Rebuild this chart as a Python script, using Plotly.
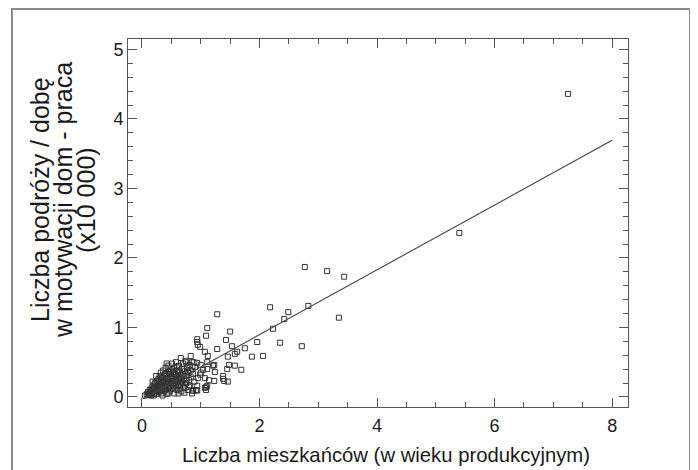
import plotly.graph_objects as go

# --- data ---
pop_x = [
    0.05, 0.08, 0.10, 0.10, 0.12, 0.13, 0.14, 0.15, 0.16, 0.17, 0.18, 0.19, 0.20, 0.20, 0.21, 0.22, 0.23, 0.24,
    0.25, 0.25, 0.26, 0.27, 0.28, 0.28, 0.29, 0.30, 0.30,
    0.31, 0.32, 0.32, 0.33, 0.34, 0.35, 0.35, 0.36, 0.37, 0.37, 0.38, 0.39, 0.40, 0.40, 0.41, 0.42, 0.42, 0.43,
    0.44, 0.45, 0.45, 0.46, 0.47, 0.48, 0.48, 0.49, 0.50, 0.50, 0.51, 0.52, 0.53, 0.53, 0.54, 0.55, 0.55, 0.56,
    0.57, 0.58, 0.58, 0.59, 0.60, 0.60,
    0.61, 0.62, 0.63, 0.64, 0.65, 0.66, 0.66, 0.67, 0.68, 0.69, 0.70, 0.70, 0.71, 0.72, 0.73, 0.74, 0.75, 0.75,
    0.76, 0.77, 0.78, 0.79, 0.80, 0.81, 0.82, 0.83, 0.83, 0.84, 0.85, 0.86, 0.87, 0.87, 0.88, 0.89,
    0.22, 0.26, 0.29, 0.31, 0.33, 0.34, 0.36, 0.38, 0.39, 0.41, 0.43, 0.44, 0.46, 0.47, 0.49, 0.51, 0.52, 0.54,
    0.56, 0.57, 0.59, 0.61, 0.62, 0.64, 0.65, 0.67, 0.68, 0.71, 0.73, 0.76, 0.78, 0.80, 0.15, 0.35, 0.45, 0.62,
    0.72, 0.18, 0.24, 0.42,
    0.92, 0.94, 0.94, 0.95, 0.99, 0.94, 0.95, 0.99, 1.00, 1.07, 1.12, 1.07, 1.07, 1.11, 1.14, 1.11, 1.09, 1.11,
    1.21, 1.23, 1.24, 1.28, 1.28, 0.85, 0.94, 0.90, 1.00, 1.11, 1.23, 1.04, 1.09, 1.09, 0.87, 0.94,
    1.38, 1.38, 1.40, 1.45, 1.46, 1.46, 1.48, 1.50, 1.43, 1.53, 1.58, 1.58, 1.62, 1.69, 1.75, 1.87, 1.96, 2.06,
    2.18, 2.23, 2.35, 2.42, 2.49, 2.72, 2.77, 2.83, 3.15, 3.35, 3.44, 5.40, 7.25,
]
trips_y = [
    0.02, 0.04, 0.03, 0.07, 0.05, 0.10, 0.03, 0.08, 0.12, 0.05, 0.15, 0.09, 0.02, 0.12, 0.18, 0.06, 0.14, 0.10,
    0.22, 0.04, 0.16, 0.12, 0.26, 0.07, 0.19, 0.14, 0.30,
    0.10, 0.22, 0.35, 0.05, 0.17, 0.27, 0.13, 0.38, 0.21, 0.08, 0.30, 0.16, 0.25, 0.42, 0.11, 0.34, 0.19, 0.04,
    0.28, 0.22, 0.45, 0.14, 0.33, 0.26, 0.09, 0.38, 0.18, 0.30, 0.48, 0.23, 0.12, 0.36, 0.28, 0.05, 0.42, 0.20,
    0.32, 0.15, 0.50, 0.26, 0.38, 0.10,
    0.22, 0.30, 0.45, 0.17, 0.35, 0.56, 0.27, 0.08, 0.40, 0.21, 0.32, 0.48, 0.14, 0.26, 0.37, 0.52, 0.20, 0.50,
    0.30, 0.42, 0.10, 0.35, 0.24, 0.46, 0.16, 0.59, 0.38, 0.28, 0.05, 0.44, 0.09, 0.33, 0.50, 0.22,
    0.20, 0.09, 0.24, 0.17, 0.28, 0.09, 0.23, 0.12, 0.33, 0.20, 0.27, 0.15, 0.36, 0.20, 0.12, 0.27, 0.40, 0.18,
    0.33, 0.24, 0.44, 0.16, 0.36, 0.26, 0.12, 0.31, 0.22, 0.40, 0.18, 0.25, 0.36, 0.14, 0.02, 0.02, 0.06, 0.05,
    0.06, 0.22, 0.30, 0.48,
    0.10, 0.16, 0.79, 0.75, 0.72, 0.83, 0.27, 0.32, 0.35, 0.65, 0.59, 0.27, 0.13, 0.16, 0.24, 0.40, 0.88, 0.99,
    0.45, 0.23, 0.36, 1.19, 0.69, 0.50, 0.49, 0.43, 0.46, 0.50, 0.46, 0.39, 0.14, 0.10, 0.09, 0.09,
    0.30, 0.26, 0.23, 0.40, 0.22, 0.58, 0.46, 0.94, 0.82, 0.73, 0.62, 0.45, 0.65, 0.39, 0.70, 0.58, 0.79, 0.59,
    1.29, 0.98, 0.78, 1.12, 1.22, 0.73, 1.87, 1.31, 1.81, 1.14, 1.73, 2.36, 4.36,
]

# regression line
fit_slope = 0.466
fit_intercept = -0.035
fit_x = [0.02, 8.0]
fit_y = [fit_intercept + fit_slope * v for v in fit_x]

x_title = "Liczba mieszkańców (w wieku produkcyjnym)"
y_title_lines = ["Liczba podróży / dobę", "w motywacji dom - praca", "(x10 000)"]

FONT = "Liberation Sans, Arial, sans-serif"
AX = "#555555"

fig = go.Figure()
fig.add_trace(go.Scatter(
    x=pop_x, y=trips_y, mode="markers",
    marker=dict(symbol="square-open", size=5, color="#333333", line=dict(width=1)),
    showlegend=False, hoverinfo="x+y",
))
fig.add_trace(go.Scatter(
    x=fit_x, y=fit_y, mode="lines",
    line=dict(color="#444444", width=1.1),
    showlegend=False, hoverinfo="skip",
))

# the page has an 8px body margin, so the figure is drawn 8px smaller
OFF = 8
W, H = 698 - OFF, 470 - OFF
L, T = 128 - OFF, 39 - OFF
R = W - (628 - OFF)
B = H - (407 - OFF)
pw, ph = W - L - R, H - T - B

def px2paper_x(px):  # px in page pixels
    return (px - OFF - L) / pw

def py2paper_y(py):
    return (H - B - (py - OFF)) / ph

axis_common = dict(
    showline=True, linecolor=AX, linewidth=1, mirror="ticks",
    ticks="inside", tickcolor=AX, tickwidth=1, ticklen=9,
    showgrid=False, zeroline=False,
    tickfont=dict(family=FONT, size=18, color="#1a1a1a"),
)

fig.update_xaxes(
    range=[-0.238, 8.27], tickmode="linear", tick0=0, dtick=2,
    minor=dict(dtick=0.5, tick0=0, ticks="inside", ticklen=5, tickcolor=AX, tickwidth=1),
    ticklabelstandoff=2,
    **axis_common,
)
fig.update_yaxes(
    range=[-0.145, 5.15], tickmode="linear", tick0=0, dtick=1,
    minor=dict(dtick=0.2, tick0=0, ticks="inside", ticklen=5, tickcolor=AX, tickwidth=1),
    ticklabelstandoff=0,
    **axis_common,
)

annotations = [
    dict(text=x_title, xref="paper", yref="paper", x=px2paper_x(386), y=py2paper_y(455),
         showarrow=False, xanchor="center", yanchor="middle",
         font=dict(family=FONT, size=20.3, color="#1a1a1a")),
]
for txt, cx in zip(y_title_lines, [40, 63, 86]):
    annotations.append(dict(
        text=txt, xref="paper", yref="paper", x=px2paper_x(cx), y=py2paper_y(200),
        showarrow=False, textangle=-90, xanchor="center", yanchor="middle",
        font=dict(family=FONT, size=25, color="#1a1a1a"),
    ))

fig.update_layout(
    width=W, height=H,
    margin=dict(l=L, r=R, t=T, b=B),
    paper_bgcolor="white", plot_bgcolor="white",
    annotations=annotations,
    shapes=[dict(
        type="rect", xref="paper", yref="paper", layer="below",
        x0=px2paper_x(12), x1=px2paper_x(690), y0=py2paper_y(490), y1=py2paper_y(9),
        line=dict(color="#8a8a8a", width=2), fillcolor="rgba(0,0,0,0)",
    )],
)

fig.write_html("out.html")
